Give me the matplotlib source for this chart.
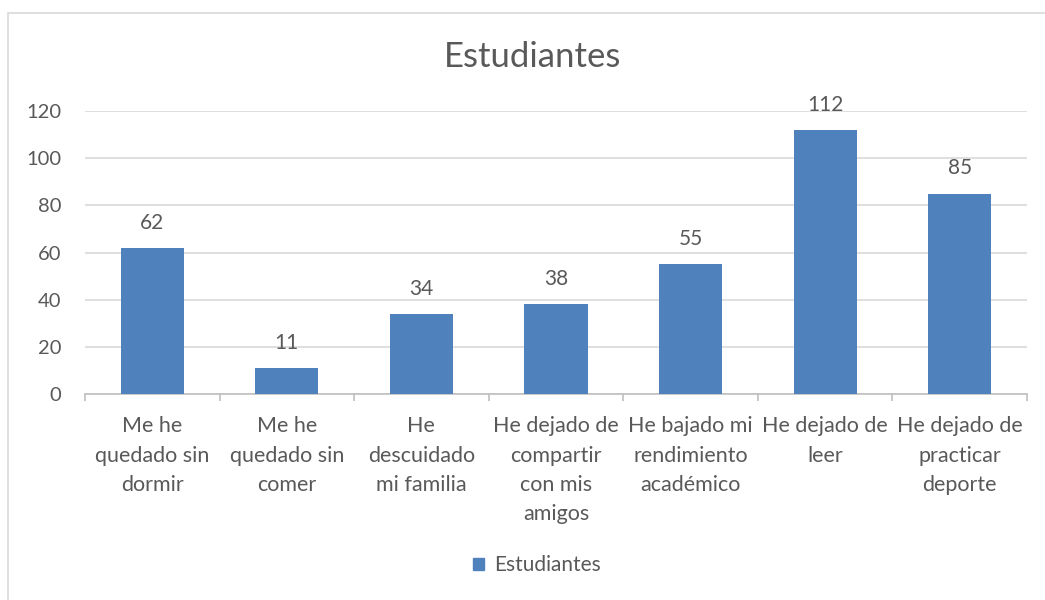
import matplotlib
matplotlib.use("Agg")
import matplotlib.pyplot as plt
from matplotlib.patches import Rectangle
import numpy as np

categories = [
    "Me he\nquedado sin\ndormir",
    "Me he\nquedado sin\ncomer",
    "He\ndescuidado\nmi familia",
    "He dejado de\ncompartir\ncon mis\namigos",
    "He bajado mi\nrendimiento\nacadémico",
    "He dejado de\nleer",
    "He dejado de\npracticar\ndeporte",
]
values = [62, 11, 34, 38, 55, 112, 85]
series_name = "Estudiantes"
yticks = [0, 20, 40, 60, 80, 100, 120]

plt.rcParams['font.family'] = ['Lato', 'DejaVu Sans']
txt = "#595959"
bar_color = "#4F81BD"

fig = plt.figure(figsize=(10.45, 6), dpi=100)
fig.patches.append(Rectangle((8/1045, -0.1), 1.1, 1 - 13/600 + 0.1, transform=fig.transFigure,
                             fill=False, edgecolor="#D9D9D9", linewidth=1.2))
ax = fig.add_axes([85/1045, 1 - 394/600, (1027 - 85)/1045, (394 - 111)/600])

x = np.arange(len(categories))
ax.bar(x, values, width=0.47, color=bar_color, zorder=3)
for xi, v in zip(x, values):
    ax.annotate(str(v), (xi, v), xytext=(0, 11), textcoords="offset points",
                ha="center", va="bottom", fontsize=15, color=txt)

ax.set_xlim(-0.5, len(categories) - 0.5)
ax.set_ylim(0, 120)
ax.set_yticks(yticks)
ax.set_yticklabels([str(t) for t in yticks], fontsize=14.5, color=txt)
ax.yaxis.grid(True, color="#D9D9D9", linewidth=1.2, zorder=0)
ax.tick_params(axis="y", length=0, pad=17)

ax.set_xticks(x)
ax.set_xticklabels(categories, fontsize=15.5, color=txt, linespacing=1.58)
ax.tick_params(axis="x", which="major", length=0, pad=16)
ax.set_xticks(np.arange(len(categories) + 1) - 0.5, minor=True)
ax.tick_params(axis="x", which="minor", length=5, color="#BFBFBF", width=1.2)

for s in ["top", "right", "left"]:
    ax.spines[s].set_visible(False)
ax.spines["bottom"].set_color("#BFBFBF")
ax.spines["bottom"].set_linewidth(1.2)

fig.text(533/1045, 1 - 57/600, "Estudiantes", ha="center", va="center", fontsize=25, color=txt)

handle = Rectangle((0, 0), 1, 1, color=bar_color)
fig.legend([handle], [series_name], loc="center", bbox_to_anchor=(537/1045, 1 - 565/600),
           frameon=False, fontsize=15, labelcolor=txt, handlelength=0.5, handleheight=0.5,
           handletextpad=0.5)

fig.savefig("out.png", dpi=100)
